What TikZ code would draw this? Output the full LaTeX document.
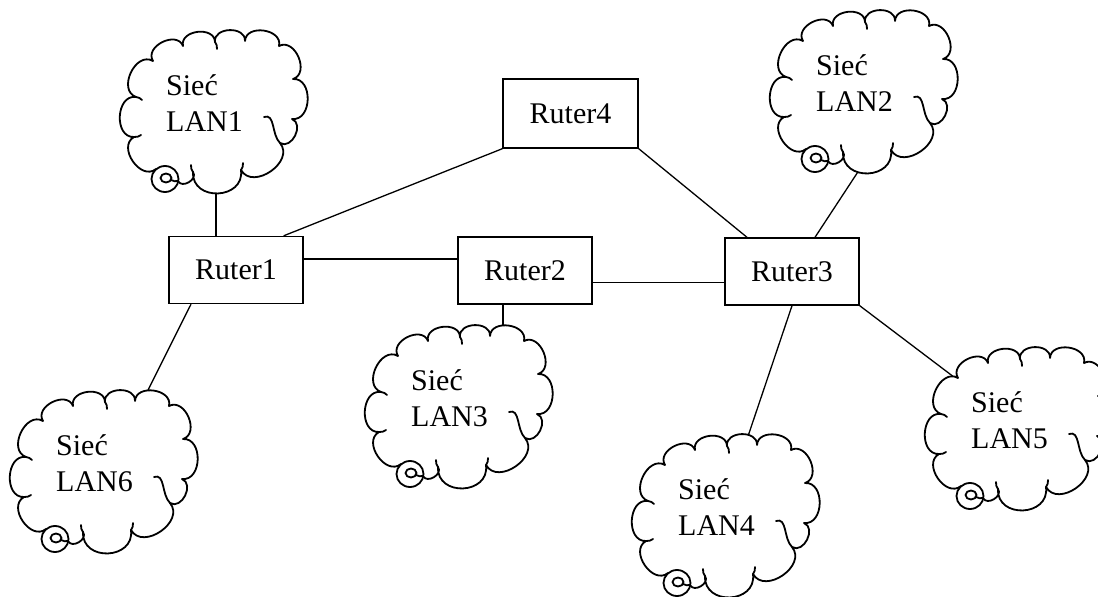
\documentclass[tikz,border=0pt]{standalone}
\usepackage{fontspec}
\setmainfont{Liberation Serif}

% outline of a LAN cloud, local frame: origin at the top-left corner, 180 x 160
\newcommand{\lancloudpath}{(33,-136) to[bump] (11,-104) to[bump] (13,-64) to[bump] (30,-28)
  to[bump] (60,-13) to[bump] (92,-9) to[bump] (122,-8) to[bump] (156,-13)
  to[bump] (170,-46) to[bump] (169,-86) to[bump] (157,-110) to[bump] (118,-137)
  to[bump,looseness=1.6] (70,-139) to[bump] (55,-148)}

\begin{document}
\begin{tikzpicture}[x=1pt,y=1pt,
  router/.style={draw, line width=1.4pt, minimum width=134pt, minimum height=67pt,
    inner sep=0pt, font=\fontsize{30}{36}\selectfont},
  link/.style={line width=1.3pt},
  cloudline/.style={line width=1.8pt, line cap=round, line join=round},
  lantext/.style={anchor=north west, inner sep=0pt, align=left,
    font=\fontsize{30}{36}\selectfont},
  bump/.style={bend left=95, looseness=1.3},
  lancloud/.pic={
    \fill[white] \lancloudpath -- cycle;
    \draw[cloudline] \lancloudpath;
    % short inner strokes at some of the cusps
    \draw[cloudline] (11,-104) to[bend right=20] (18,-102);
    \draw[cloudline] (13,-64) to[bend left=20] (19,-67);
    \draw[cloudline] (92,-9) to[bend left=20] (94,-16);
    \draw[cloudline] (118,-137) to[bend right=20] (120,-130);
    \draw[cloudline] (70,-139) to[bend left=20] (68,-132);
    % inner curl on the right
    \draw[cloudline] (141,-84) to[out=20,in=136] (157,-110);
    % swirl at the lower left
    \draw[cloudline] (42,-146) ellipse[x radius=13.5, y radius=13];
    \draw[cloudline] (43,-145) ellipse[x radius=5.5, y radius=4.5];
    \draw[cloudline] (48,-147) to[out=-20,in=200] (55,-148);
    \node[lantext] (-text) at (43,-41) {#1};
  },
]
\useasboundingbox (0,0) rectangle (1098,-597);

% routers
\node[router] (r1) at (236,-270) {Ruter1};
\node[router] (r2) at (525,-270.5) {Ruter2};
\node[router] (r3) at (792,-271.5) {Ruter3};
\node[router, minimum width=135pt, minimum height=69pt] (r4) at (570.5,-113.5) {Ruter4};

% points inside the clouds where the links end (hidden by the cloud fill)
\coordinate (lan1port) at (216,-175);
\coordinate (lan2port) at (869,-155);
\coordinate (lan3port) at (503,-350);
\coordinate (lan4port) at (741,-457);
\coordinate (lan5port) at (975,-393);
\coordinate (lan6port) at (138,-410);

% links between routers
\draw[link] (r4.south west) -- ([xshift=-20pt]r1.north east);
\draw[link] (r4.south east) -- ([xshift=-45pt]r3.north);
\draw[link] ([yshift=11pt]r1.east) -- ([yshift=11pt]r1.east -| r2.west);
\draw[link] ([yshift=-12pt]r2.east) -- ([yshift=-12pt]r2.east -| r3.west);

% links to the LANs
\draw[link] (r1.north -| lan1port) -- (lan1port);
\draw[link] (r2.south -| lan3port) -- (lan3port);
\draw[link] ([xshift=23pt]r3.north) -- (lan2port);
\draw[link] (r3.south) -- (lan4port);
\draw[link] (r3.south east) -- (lan5port);
\draw[link] ([xshift=-45pt]r1.south) -- (lan6port);

% LAN clouds
\pic (lan1) at (123,-33) {lancloud={Sieć\\LAN1}};
\pic (lan2) at (773,-13) {lancloud={Sieć\\LAN2}};
\pic (lan3) at (368,-328) {lancloud={Sieć\\LAN3}};
\pic (lan4) at (635,-437) {lancloud={Sieć\\LAN4}};
\pic (lan5) at (928,-350) {lancloud={Sieć\\LAN5}};
\pic (lan6) at (13,-393) {lancloud={Sieć\\LAN6}};
\end{tikzpicture}
\end{document}
